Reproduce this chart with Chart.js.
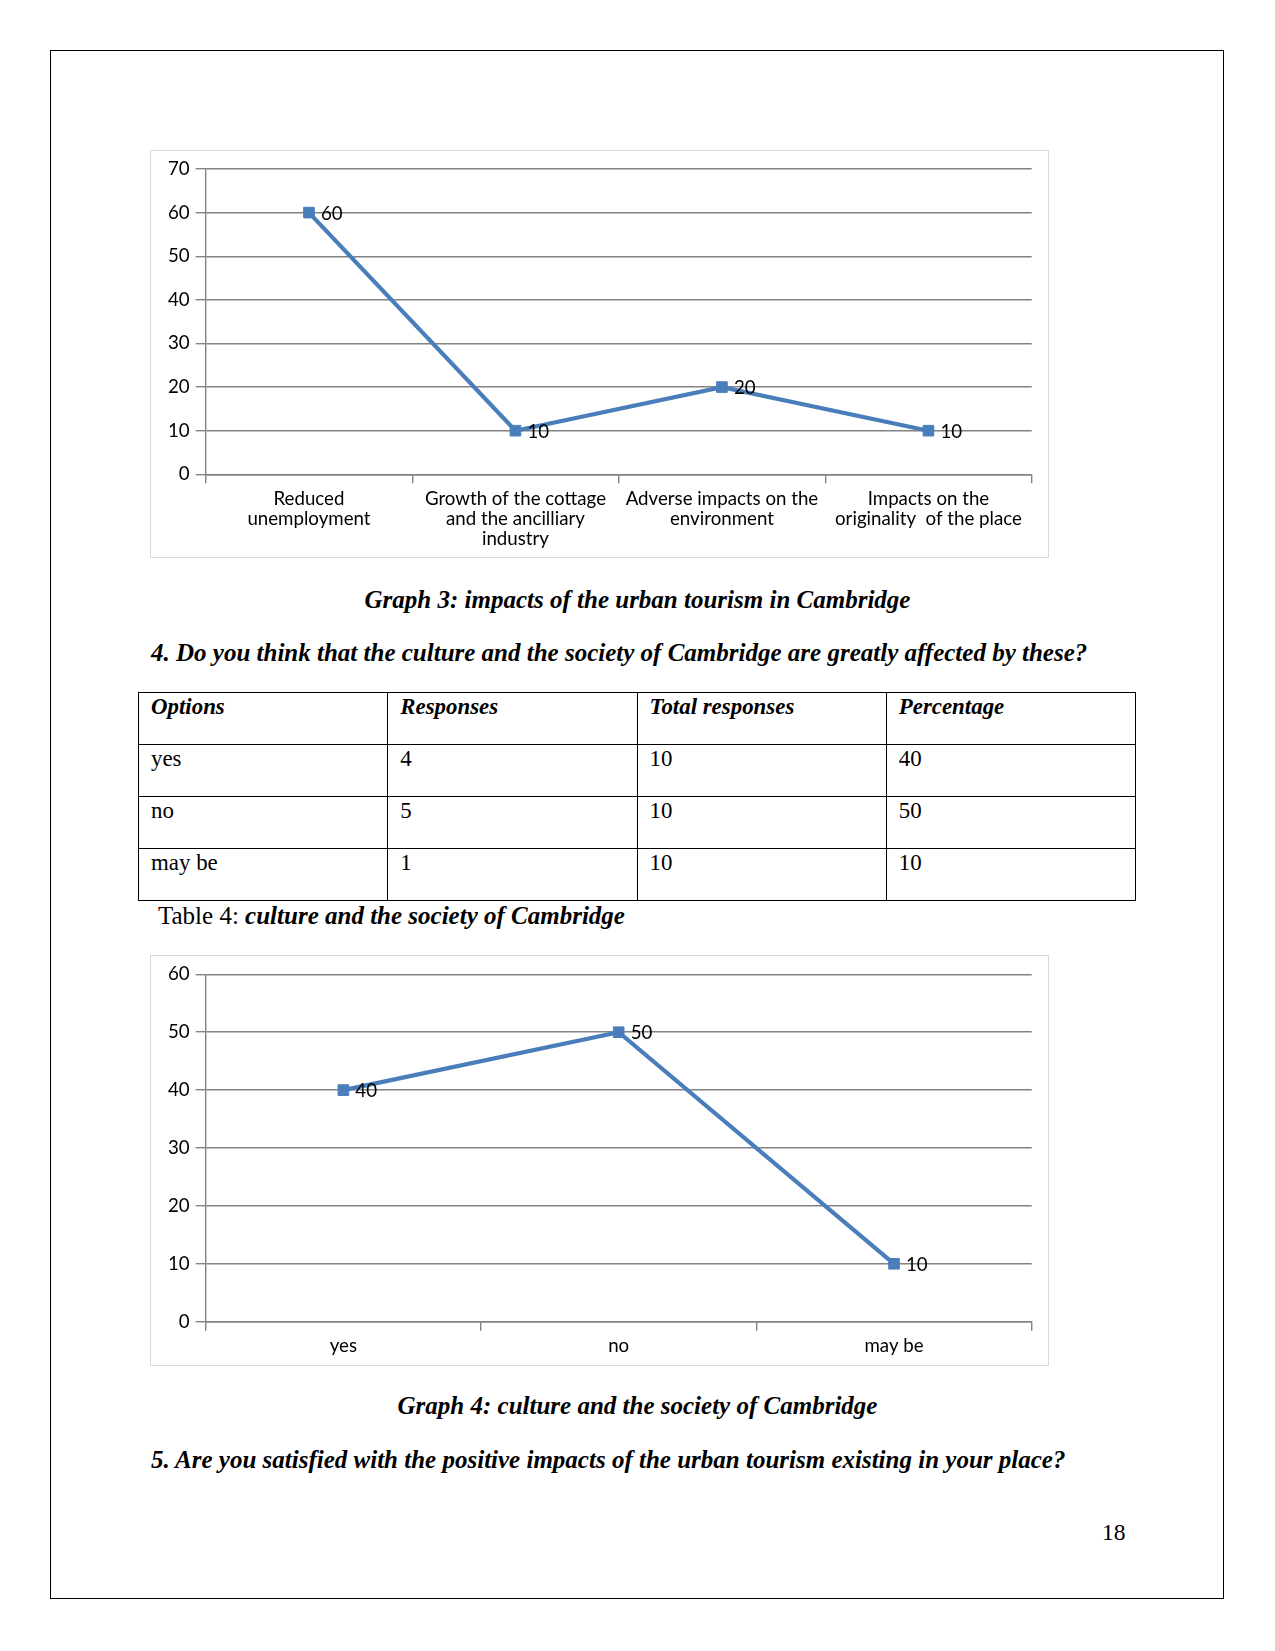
<!DOCTYPE html>
<html>
<head>
<meta charset="utf-8">
<title>Graph 3 / Graph 4</title>
<script src="https://cdn.jsdelivr.net/npm/chart.js@4.4.1/dist/chart.umd.min.js"></script>
<style>
    html, body {
        margin: 0;
        padding: 0;
        background: #fff;
    }
    body {
        position: relative;
        width: 1275px;
        height: 1651px;
        overflow: hidden;
    }
    .page-border {
        position: absolute;
        left: 50px;
        top: 50px;
        width: 1174px;
        height: 1549px;
        border: 1.5px solid #000;
        box-sizing: border-box;
    }
    .txt {
        position: absolute;
        font-family: "Liberation Serif", "Times New Roman", serif;
        font-size: 25px;
        line-height: 1;
        white-space: nowrap;
        color: #000;
    }
    .bi {
        font-weight: bold;
        font-style: italic;
    }
    .centered {
        left: 0;
        width: 1275px;
        text-align: center;
    }
    .chart-box {
        position: absolute;
        left: 150px;
        width: 899px;
        border: 1px solid #d9d9d9;
        box-sizing: border-box;
    }
    .chart-box canvas {
        position: absolute;
        left: 0;
        top: 0;
    }
    table.survey {
        position: absolute;
        left: 138px;
        top: 692px;
        width: 998px;
        border-collapse: collapse;
        table-layout: fixed;
        font-family: "Liberation Serif", "Times New Roman", serif;
        font-size: 22.9px;
        line-height: 1;
    }
    table.survey td {
        border: 1.3px solid #000;
        height: 52px;
        box-sizing: border-box;
        vertical-align: top;
        padding: 3px 0 0 12px;
    }
    table.survey tr:first-child td {
        font-weight: bold;
        font-style: italic;
        padding-top: 3px;
    }
</style>
</head>
<body>

<div class="page-border"></div>

<div class="chart-box" id="box1" style="top:150px;height:408px;">
    <canvas id="chart1"></canvas>
</div>

<div class="txt bi centered" style="top:587px;">Graph 3: impacts of the urban tourism in Cambridge</div>
<div class="txt bi" style="left:151px;top:640px;">4. Do you think that the culture and the society of Cambridge are greatly affected by these?</div>

<table class="survey" id="surveyTable"></table>

<div class="txt" style="left:158px;top:903px;">Table 4: <span class="bi">culture and the society of Cambridge</span></div>

<div class="chart-box" id="box2" style="top:955px;height:411px;">
    <canvas id="chart2"></canvas>
</div>

<div class="txt bi centered" style="top:1393px;">Graph 4: culture and the society of Cambridge</div>
<div class="txt bi" style="left:151px;top:1447px;">5. Are you satisfied with the positive impacts of the urban tourism existing in your place?</div>
<div class="txt" style="left:1102px;top:1521px;font-size:23.5px;">18</div>

<script>
    // graph 3 data
    var impactLabels = [
        ['Reduced', 'unemployment'],
        ['Growth of the cottage', 'and the ancilliary', 'industry'],
        ['Adverse impacts on the', 'environment'],
        ['Impacts on the', 'originality  of the place']
    ];
    var impactValues = [60, 10, 20, 10];

    // table 4 / graph 4 data
    var tableHeader = ['Options', 'Responses', 'Total responses', 'Percentage'];
    var optionLabels = ['yes', 'no', 'may be'];
    var optionResponses = [4, 5, 1];
    var optionTotals = [10, 10, 10];
    var optionPercent = [40, 50, 10];

    var LINE_BLUE = '#4a7ebb';
    var AXIS_GREY = '#828282';
    var LABEL_FONT = { family: 'Lato, "Open Sans", sans-serif', size: 18.7 };

    function buildTable() {
        var table = document.getElementById('surveyTable');
        var rows = [tableHeader];
        for (var i = 0; i < optionLabels.length; i++) {
            rows.push([optionLabels[i], optionResponses[i], optionTotals[i], optionPercent[i]]);
        }
        rows.forEach(function (r) {
            var tr = document.createElement('tr');
            r.forEach(function (cell) {
                var td = document.createElement('td');
                td.textContent = cell;
                tr.appendChild(td);
            });
            table.appendChild(tr);
        });
    }

    // draws the value next to each marker
    var pointValueLabels = {
        id: 'pointValueLabels',
        afterDatasetsDraw: function (chart) {
            var ctx = chart.ctx;
            var meta = chart.getDatasetMeta(0);
            var values = chart.data.datasets[0].data;
            ctx.save();
            ctx.font = LABEL_FONT.size + 'px ' + LABEL_FONT.family;
            ctx.fillStyle = '#000';
            ctx.textAlign = 'left';
            ctx.textBaseline = 'middle';
            meta.data.forEach(function (pt, i) {
                ctx.fillText(String(values[i]), pt.x + 12, pt.y + 1);
            });
            ctx.restore();
        }
    };

    function makeLineChart(canvasId, boxId, labels, values, yMax, xAxisHeight, topPad) {
        var box = document.getElementById(boxId);
        var canvas = document.getElementById(canvasId);
        canvas.width = box.clientWidth;
        canvas.height = box.clientHeight;
        canvas.style.width = box.clientWidth + 'px';
        canvas.style.height = box.clientHeight + 'px';

        return new Chart(canvas.getContext('2d'), {
            type: 'line',
            data: {
                labels: labels,
                datasets: [{
                    data: values,
                    borderColor: LINE_BLUE,
                    backgroundColor: LINE_BLUE,
                    borderWidth: 4.2,
                    tension: 0,
                    fill: false,
                    pointStyle: 'rect',
                    pointRadius: 7.5,
                    pointHoverRadius: 7.5,
                    pointBackgroundColor: LINE_BLUE,
                    pointBorderColor: LINE_BLUE,
                    pointBorderWidth: 1
                }]
            },
            options: {
                responsive: false,
                animation: false,
                events: [],
                layout: {
                    padding: { top: topPad, right: 16.3, bottom: 0, left: 0 }
                },
                plugins: {
                    legend: { display: false },
                    tooltip: { enabled: false }
                },
                scales: {
                    x: {
                        type: 'category',
                        offset: true,
                        afterFit: function (s) { s.height = xAxisHeight; },
                        grid: {
                            offset: true,
                            drawOnChartArea: false,
                            drawTicks: true,
                            tickLength: 9,
                            color: AXIS_GREY,
                            lineWidth: 1.4
                        },
                        border: { display: true, color: AXIS_GREY, width: 1.4 },
                        ticks: {
                            color: '#000',
                            font: { family: LABEL_FONT.family, size: LABEL_FONT.size, lineHeight: 20 / LABEL_FONT.size },
                            padding: 5.5,
                            maxRotation: 0,
                            autoSkip: false
                        }
                    },
                    y: {
                        min: 0,
                        max: yMax,
                        afterFit: function (s) { s.width = 54.7; },
                        grid: {
                            color: AXIS_GREY,
                            lineWidth: 1.4,
                            tickLength: 10
                        },
                        border: { display: true, color: AXIS_GREY, width: 1.4 },
                        ticks: {
                            stepSize: 10,
                            color: '#000',
                            font: { family: LABEL_FONT.family, size: LABEL_FONT.size },
                            padding: 6
                        }
                    }
                }
            },
            plugins: [pointValueLabels]
        });
    }

    function init() {
        buildTable();
        makeLineChart('chart1', 'box1', impactLabels, impactValues, 70, 82.7, 18);
        makeLineChart('chart2', 'box2', optionLabels, optionPercent, 60, 43.3, 18.3);
    }

    if (document.readyState === 'loading') {
        document.addEventListener('DOMContentLoaded', init);
    } else {
        init();
    }
</script>
</body>
</html>
